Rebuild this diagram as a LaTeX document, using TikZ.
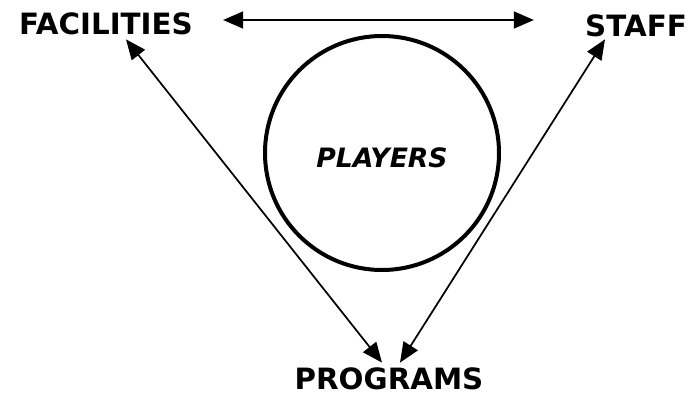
\documentclass[tikz,border=0pt]{standalone}
\usepackage{fontspec}
\setmainfont{DejaVu Sans}
\usepackage{tikz}
\usetikzlibrary{arrows.meta}

\begin{document}
\begin{tikzpicture}[
    x=0.75pt, y=-0.75pt,
    label/.style={inner sep=0pt, font=\fontsize{22}{24}\selectfont\bfseries},
    hub/.style={circle, draw, line width=3pt, inner sep=0pt, minimum size=175.5pt,
        text height=22pt, text depth=0pt,
        font=\fontsize{20}{22}\selectfont\bfseries\itshape},
    link/.style={<->, >={Triangle[length=15pt, width=12.5pt]}, line width=1.3pt}
]
    \useasboundingbox (0,0) rectangle (690,396);

    \node[label] (facilities) at (106,24) {FACILITIES};
    \node[label] (staff) at (636,26) {STAFF};
    \node[label] (programs) at (389,379) {PROGRAMS};
    \node[hub] (players) at (382,153) {PLAYERS};

    \draw[link, line width=1.8pt] ([shift={(30,-4)}]facilities.east) -- ([shift={(-51,-6)}]staff.west);
    \draw[link] ([shift={(20,4)}]facilities.south) -- ([shift={(-7,-5)}]programs.north);
    \draw[link] ([shift={(-31,2)}]staff.south) -- ([shift={(11,-5)}]programs.north);
\end{tikzpicture}
\end{document}
